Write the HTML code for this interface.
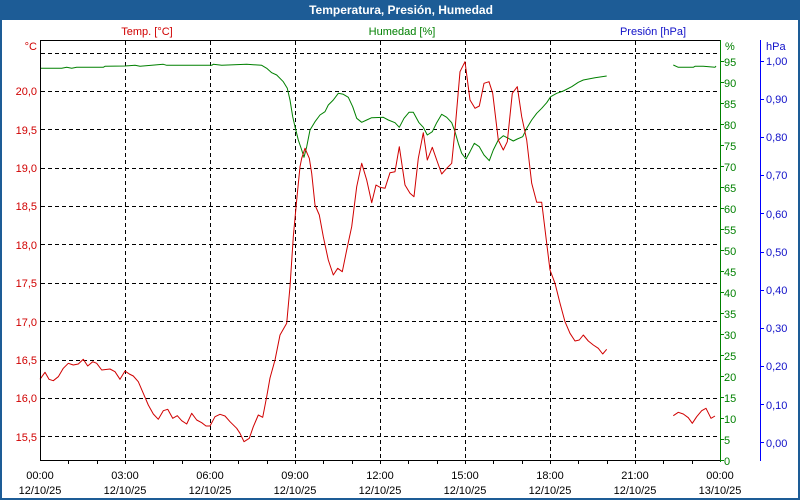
<!DOCTYPE html>
<html>
<head>
<meta charset="utf-8">
<style>
html,body{margin:0;padding:0;background:#fff;}
svg{display:block;}
text{font-family:"Liberation Sans",Arial,sans-serif;font-size:11px;}
</style>
</head>
<body>
<svg width="800" height="500" viewBox="0 0 800 500" xmlns="http://www.w3.org/2000/svg">
<rect x="0" y="0" width="800" height="500" fill="#ffffff"/>
<!-- frame -->
<rect x="0" y="0" width="800" height="20" fill="#1d5c96"/>
<rect x="0" y="0" width="2" height="500" fill="#1d5c96"/>
<rect x="798" y="0" width="2" height="500" fill="#1d5c96"/>
<rect x="0" y="498" width="800" height="2" fill="#1d5c96"/>
<text x="401" y="14" text-anchor="middle" fill="#ffffff" style="font-weight:bold;font-size:12px">Temperatura, Presión, Humedad</text>

<!-- header labels -->
<text x="147" y="35" text-anchor="middle" fill="#d00000">Temp. [°C]</text>
<text x="402" y="35" text-anchor="middle" fill="#008000">Humedad [%]</text>
<text x="653" y="35" text-anchor="middle" fill="#1010c8">Presión [hPa]</text>
<text x="37" y="50" text-anchor="end" fill="#d00000">°C</text>
<text x="725" y="50" fill="#008000">%</text>
<text x="766" y="50" fill="#1010c8">hPa</text>

<!-- grid -->
<g stroke="#000" stroke-width="1" stroke-dasharray="4,3" shape-rendering="crispEdges" fill="none">
<line x1="41" y1="53.5" x2="720" y2="53.5"/>
<line x1="41" y1="91.5" x2="720" y2="91.5"/>
<line x1="41" y1="129.5" x2="720" y2="129.5"/>
<line x1="41" y1="168.5" x2="720" y2="168.5"/>
<line x1="41" y1="206.5" x2="720" y2="206.5"/>
<line x1="41" y1="244.5" x2="720" y2="244.5"/>
<line x1="41" y1="283.5" x2="720" y2="283.5"/>
<line x1="41" y1="321.5" x2="720" y2="321.5"/>
<line x1="41" y1="360.5" x2="720" y2="360.5"/>
<line x1="41" y1="398.5" x2="720" y2="398.5"/>
<line x1="41" y1="436.5" x2="720" y2="436.5"/>
<line x1="125.5" y1="41" x2="125.5" y2="460"/>
<line x1="210.5" y1="41" x2="210.5" y2="460"/>
<line x1="295.5" y1="41" x2="295.5" y2="460"/>
<line x1="380.5" y1="41" x2="380.5" y2="460"/>
<line x1="465.5" y1="41" x2="465.5" y2="460"/>
<line x1="550.5" y1="41" x2="550.5" y2="460"/>
<line x1="635.5" y1="41" x2="635.5" y2="460"/>
</g>

<!-- series -->
<g fill="none" stroke-width="1" stroke-linejoin="round">
<polyline stroke="#008000" points="40,68.3 61.7,68.3 66.7,67.3 71.7,68.3 76.7,67.3 103.3,67.3 105,66.3 125,66 135,65.3 140,66.3 151.7,65.3 163.3,64.3 166.7,65.3 211.7,65.3 213.3,64.3 221.7,65.3 246.7,64.3 261.7,65.3 266.7,68.3 271.7,72.7 276.7,75 283.3,81.7 287.3,88.3 290,100 292.7,116.7 295,126.7 298.3,140 301.7,150 304,157.3 306.7,146.7 310,130 315,121.7 320,115 325,111.7 328.3,105 333.3,100 338.3,93.3 343.3,94.3 348.3,97.3 352.7,106.7 356.7,118.3 361.7,122.3 366.7,120 371.7,117.7 383.3,117.3 388.3,120 395,122.7 399.3,127.3 404,118.3 409,112.3 413.3,112.3 419,122.7 423.3,127.3 427.3,135 432.3,131.7 436.7,122.7 441.7,114.3 446.7,117.3 451.7,122.7 455,131.7 458.3,143.3 461.7,153.3 466,159 470,151.7 474.3,143.3 479.3,146.7 484,155 489.3,160.7 493.3,150 498.3,140 503.3,135.7 508.3,138.3 513.3,141 517.3,139 522.7,136.7 526.7,128.3 531.7,120 536.7,113.3 541.7,108.3 546.7,102.7 550.7,96.7 556.7,93.3 563.3,91 571.7,86.7 578.3,82.3 583.3,80 595,77.7 606.7,76"/>
<polyline stroke="#008000" points="673.3,65 678.3,67.3 693.3,67.3 695,66.3 703.3,66.3 715,67.3 716,66"/>
<polyline stroke="#d00000" points="40,379.3 45,372.3 49,379.3 53.3,380.7 58.3,376.7 63.3,368.3 68.3,363.3 73.3,365 78.3,364 83.3,359.3 87.7,366 92.7,361.7 96.7,363.3 101.7,370 110,369 115,371.7 120,379.3 125,371 129.3,374 133.3,376 138.3,381.7 143.3,393.3 148.3,405 153.3,414 158.3,419.3 163.3,410.7 167.7,409.3 172.7,418.3 177.3,415.7 181.7,420.7 186.7,424 191.7,413.3 196.7,420 201.7,422.7 206,426 210,426 215,416.7 220,414.3 225,416 230,421.7 236.7,428.3 240,433.3 244,441.7 249.3,438.3 253.3,426.7 258.3,415 262.7,417.3 266.7,396.7 270,378 275,360 280,335 286.7,323.3 290,286.7 293.3,236.7 296.7,200 300,166.7 301.7,158.3 305,148.3 309.3,158.3 311.7,173.3 315,205 319.3,215 323.3,236.7 328.3,260 333.3,275 337.7,268.3 342.3,271.7 346.7,250 351.7,226.7 356.7,186.7 361.7,163.3 366.7,180 371.7,202.7 376,185 380,187.3 385,188.3 390,172.7 395,171.7 399.3,146.7 405,185 410,193.3 414,196.7 418.3,158.3 423.3,132.7 427.3,160 432.3,147.3 436.7,160 441.7,174 446.7,168.3 451.7,163.3 455,130 460,71.7 465,61.7 470,100 475,108.3 479.3,106 484,83.3 489,81.7 492.7,93.3 498.3,140 503.3,150 507.3,141.7 512.3,93.3 517.3,86.7 521.7,116.7 526.7,140 531.7,183.3 536.7,202.3 541.7,202.3 546.7,243.3 550,270 555,283.3 560,303.3 565,321.7 570,333.3 575,341 579.3,340 583.3,335 588.3,341 593.3,345 598.3,348.3 602.7,354 606.7,349.3"/>
<polyline stroke="#d00000" points="673.3,415.7 678.3,412.3 683.3,414 688.3,417.7 692.3,423.3 696.7,416.7 701.7,410.7 706,408.3 711,418.3 715,416"/>
</g>

<!-- axes -->
<g shape-rendering="crispEdges" stroke-width="1" fill="none">
<line x1="40" y1="40.5" x2="720" y2="40.5" stroke="#000"/>
<line x1="40.5" y1="40" x2="40.5" y2="461" stroke="#000"/>
<line x1="40" y1="460.5" x2="720" y2="460.5" stroke="#000"/>
<line x1="720.5" y1="40" x2="720.5" y2="462" stroke="#008000"/>
<line x1="760.5" y1="40" x2="760.5" y2="461" stroke="#0000ff"/>
<path stroke="#000" d="M68.5 461v3M97.5 461v3M125.5 461v3M153.5 461v3M182.5 461v3M210.5 461v3M238.5 461v3M267.5 461v3M295.5 461v3M323.5 461v3M352.5 461v3M380.5 461v3M408.5 461v3M437.5 461v3M465.5 461v3M493.5 461v3M522.5 461v3M550.5 461v3M578.5 461v3M607.5 461v3M635.5 461v3M663.5 461v3M692.5 461v3"/>
<path stroke="#008000" d="M721 61.5h3M721 82.5h3M721 103.5h3M721 124.5h3M721 145.5h3M721 166.5h3M721 187.5h3M721 208.5h3M721 229.5h3M721 250.5h3M721 271.5h3M721 292.5h3M721 313.5h3M721 334.5h3M721 355.5h3M721 376.5h3M721 397.5h3M721 418.5h3M721 439.5h3M721 460.5h3"/>
<path stroke="#0000ff" d="M761 61.5h3M761 99.5h3M761 137.5h3M761 175.5h3M761 213.5h3M761 252.5h3M761 290.5h3M761 328.5h3M761 366.5h3M761 404.5h3M761 442.5h3"/>
</g>

<!-- left labels -->
<g fill="#d00000" text-anchor="end">
<text x="37" y="95">20,0</text>
<text x="37" y="134">19,5</text>
<text x="37" y="172">19,0</text>
<text x="37" y="210">18,5</text>
<text x="37" y="249">18,0</text>
<text x="37" y="287">17,5</text>
<text x="37" y="326">17,0</text>
<text x="37" y="364">16,5</text>
<text x="37" y="402">16,0</text>
<text x="37" y="441">15,5</text>
</g>

<!-- green labels -->
<g fill="#008000">
<text x="724" y="66">95</text>
<text x="724" y="87">90</text>
<text x="724" y="108">85</text>
<text x="724" y="129">80</text>
<text x="724" y="150">75</text>
<text x="724" y="171">70</text>
<text x="724" y="192">65</text>
<text x="724" y="213">60</text>
<text x="724" y="234">55</text>
<text x="724" y="255">50</text>
<text x="724" y="276">45</text>
<text x="724" y="297">40</text>
<text x="724" y="318">35</text>
<text x="724" y="339">30</text>
<text x="724" y="360">25</text>
<text x="724" y="381">20</text>
<text x="724" y="402">15</text>
<text x="724" y="423">10</text>
<text x="724" y="444">5</text>
<text x="724" y="465">0</text>
</g>

<!-- blue labels -->
<g fill="#1010c8">
<text x="766" y="65">1,00</text>
<text x="766" y="103">0,90</text>
<text x="766" y="141">0,80</text>
<text x="766" y="179">0,70</text>
<text x="766" y="218">0,60</text>
<text x="766" y="256">0,50</text>
<text x="766" y="294">0,40</text>
<text x="766" y="332">0,30</text>
<text x="766" y="370">0,20</text>
<text x="766" y="409">0,10</text>
<text x="766" y="447">0,00</text>
</g>

<!-- x labels -->
<g fill="#000" text-anchor="middle">
<text x="40" y="479">00:00</text><text x="40" y="494">12/10/25</text>
<text x="125" y="479">03:00</text><text x="125" y="494">12/10/25</text>
<text x="210" y="479">06:00</text><text x="210" y="494">12/10/25</text>
<text x="295" y="479">09:00</text><text x="295" y="494">12/10/25</text>
<text x="380" y="479">12:00</text><text x="380" y="494">12/10/25</text>
<text x="465" y="479">15:00</text><text x="465" y="494">12/10/25</text>
<text x="550" y="479">18:00</text><text x="550" y="494">12/10/25</text>
<text x="635" y="479">21:00</text><text x="635" y="494">12/10/25</text>
<text x="720" y="479">00:00</text><text x="720" y="494">13/10/25</text>
</g>
</svg>
</body>
</html>
